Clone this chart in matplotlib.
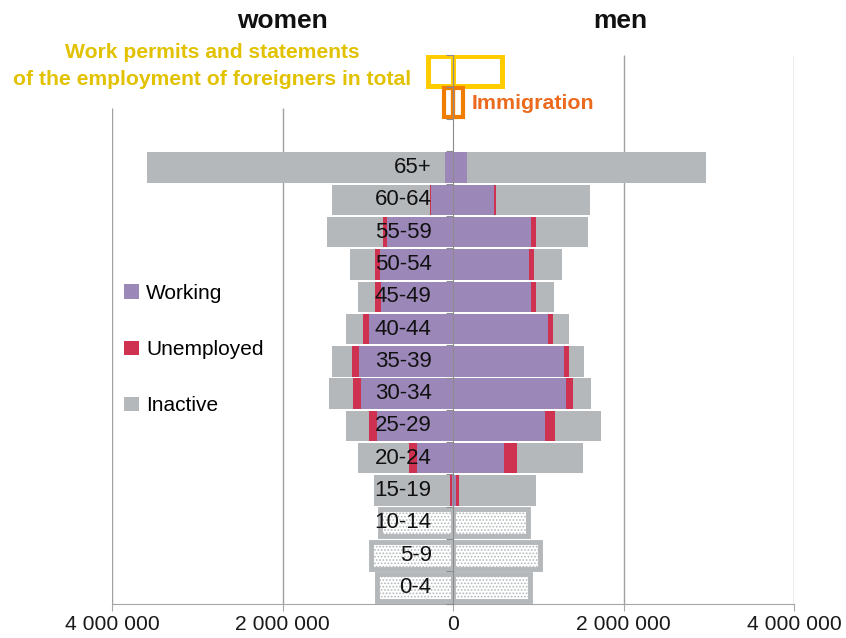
import numpy as np
import matplotlib
matplotlib.use("Agg")
import matplotlib.pyplot as plt
from matplotlib.patches import Patch
from matplotlib.ticker import FuncFormatter

# values in thousands of persons
ages = ["0-4", "5-9", "10-14", "15-19", "20-24", "25-29", "30-34", "35-39",
        "40-44", "45-49", "50-54", "55-59", "60-64", "65+"]

# children (0-14), whole group only
women_children = [890, 960, 860]
men_children = [900, 1020, 875]

# 15-19 ... 65+
women_working = [10, 420, 890, 1085, 1100, 980, 850, 860, 770, 260, 90]
women_unemployed = [20, 100, 100, 90, 80, 70, 60, 60, 50, 10, 5]
women_inactive = [900, 590, 270, 280, 240, 200, 200, 290, 660, 1150, 3490]

men_working = [35, 600, 1080, 1330, 1300, 1110, 920, 890, 920, 480, 165]
men_unemployed = [30, 150, 120, 80, 60, 60, 50, 60, 50, 30, 5]
men_inactive = [910, 770, 540, 210, 180, 190, 210, 330, 610, 1100, 2800]

# foreigners
work_permits = [290, 570]   # women, men
immigration = [100, 115]    # women, men

PURPLE = "#9B87B8"
RED = "#CF3251"
GRAY = "#B4B8BB"
YELLOW = "#FFCC00"
YELLOW_TXT = "#E2C200"
ORANGE = "#F07D00"
ORANGE_TXT = "#EB6A1E"

plt.rcParams["font.family"] = ["Liberation Sans", "DejaVu Sans"]
plt.rcParams["hatch.linewidth"] = 0.8

W, H = 846, 638
fig = plt.figure(figsize=(W / 100, H / 100), dpi=100)
ax = fig.add_axes([112 / W, (H - 603.6) / H, 682 / W, 549.1 / H])


def fx(px):
    return px / W


def fy(py):
    return (H - py) / H


k = 1000
n_child = len(women_children)
y_child = np.arange(n_child)
y_adult = np.arange(n_child, len(ages))
y_immig = len(ages) + 1
y_permit = len(ages) + 2
bh = 0.94

# children: hatched boxes
ax.barh(y_child, -np.array(women_children) * k, height=0.84, color="white",
        edgecolor=GRAY, lw=3.5, hatch=".....", zorder=1)
ax.barh(y_child, np.array(men_children) * k, height=0.84, color="white",
        edgecolor=GRAY, lw=3.5, hatch=".....", zorder=1)

# women, stacked to the left
ww = np.array(women_working) * k
wu = np.array(women_unemployed) * k
wi = np.array(women_inactive) * k
ax.barh(y_adult, -ww, height=bh, color=PURPLE, zorder=1)
ax.barh(y_adult, -wu, left=-ww, height=bh, color=RED, zorder=1)
ax.barh(y_adult, -wi, left=-(ww + wu), height=bh, color=GRAY, zorder=1)

# men, stacked to the right
mw = np.array(men_working) * k
mu = np.array(men_unemployed) * k
mi = np.array(men_inactive) * k
ax.barh(y_adult, mw, height=bh, color=PURPLE, zorder=1)
ax.barh(y_adult, mu, left=mw, height=bh, color=RED, zorder=1)
ax.barh(y_adult, mi, left=mw + mu, height=bh, color=GRAY, zorder=1)

# foreigners: outlined bars
ax.barh([y_permit, y_permit], [-work_permits[0] * k, work_permits[1] * k],
        height=0.92, fill=False, edgecolor=YELLOW, lw=3.6, zorder=2)
ax.barh([y_immig, y_immig], [-immigration[0] * k, immigration[1] * k],
        height=0.9, fill=False, edgecolor=ORANGE, lw=3, zorder=2)

# age labels
for y, lab in enumerate(ages):
    ax.text(-0.25e6, y, lab, ha="right", va="center", fontsize=16,
            color="#111111", zorder=6)

# gridlines (left ones stop below the yellow caption)
ax.vlines([-4e6, -2e6], -0.5, 14.85, color="#A0A0A0", lw=1, zorder=0)
ax.vlines([2e6, 4e6], -0.5, 16.5, color="#A0A0A0", lw=1, zorder=0)

ax.set_xlim(-4e6, 4e6)
ax.set_ylim(-0.5, 16.5)
ax.set_axisbelow(False)

for s in ["top", "right"]:
    ax.spines[s].set_visible(False)
ax.spines["left"].set_position(("data", 0))
ax.spines["left"].set_color("#8C8C8C")
ax.spines["left"].set_zorder(5)
ax.spines["bottom"].set_color("#A6A6A6")

ax.set_yticks(np.arange(-0.5, 17, 1))
ax.tick_params(axis="y", length=5, color="#8C8C8C", labelleft=False)
ax.set_xticks([-4e6, -2e6, 0, 2e6, 4e6])
ax.xaxis.set_major_formatter(
    FuncFormatter(lambda v, p: f"{abs(int(v)):,}".replace(",", " ")))
ax.tick_params(axis="x", length=5, color="#A6A6A6", labelsize=15.2,
               labelcolor="#1A1A1A", pad=3.5)

# headers and captions
fig.text(fx(282), fy(28), "women", ha="center", va="baseline",
         fontsize=19, fontweight="bold", color="#111111")
fig.text(fx(620), fy(28), "men", ha="center", va="baseline",
         fontsize=19, fontweight="bold", color="#111111")
fig.text(fx(212.5), fy(58), "Work permits and statements", ha="center",
         va="baseline", fontsize=15.2, fontweight="bold", color=YELLOW_TXT)
fig.text(fx(212.5), fy(85), "of the employment of foreigners in total",
         ha="center", va="baseline", fontsize=15.2, fontweight="bold",
         color=YELLOW_TXT)
fig.text(fx(472), fy(109), "Immigration", ha="left", va="baseline",
         fontsize=15.4, fontweight="bold", color=ORANGE_TXT)

handles = [Patch(facecolor=PURPLE), Patch(facecolor=RED), Patch(facecolor=GRAY)]
ax.legend(handles, ["Working", "Unemployed", "Inactive"], loc="upper left",
          bbox_to_anchor=(fx(124), fy(284)), bbox_transform=fig.transFigure,
          frameon=False, fontsize=15, handlelength=0.7, handleheight=0.7,
          handletextpad=0.35, labelspacing=1.78, borderpad=0, borderaxespad=0)

fig.savefig("out.png", dpi=100)
